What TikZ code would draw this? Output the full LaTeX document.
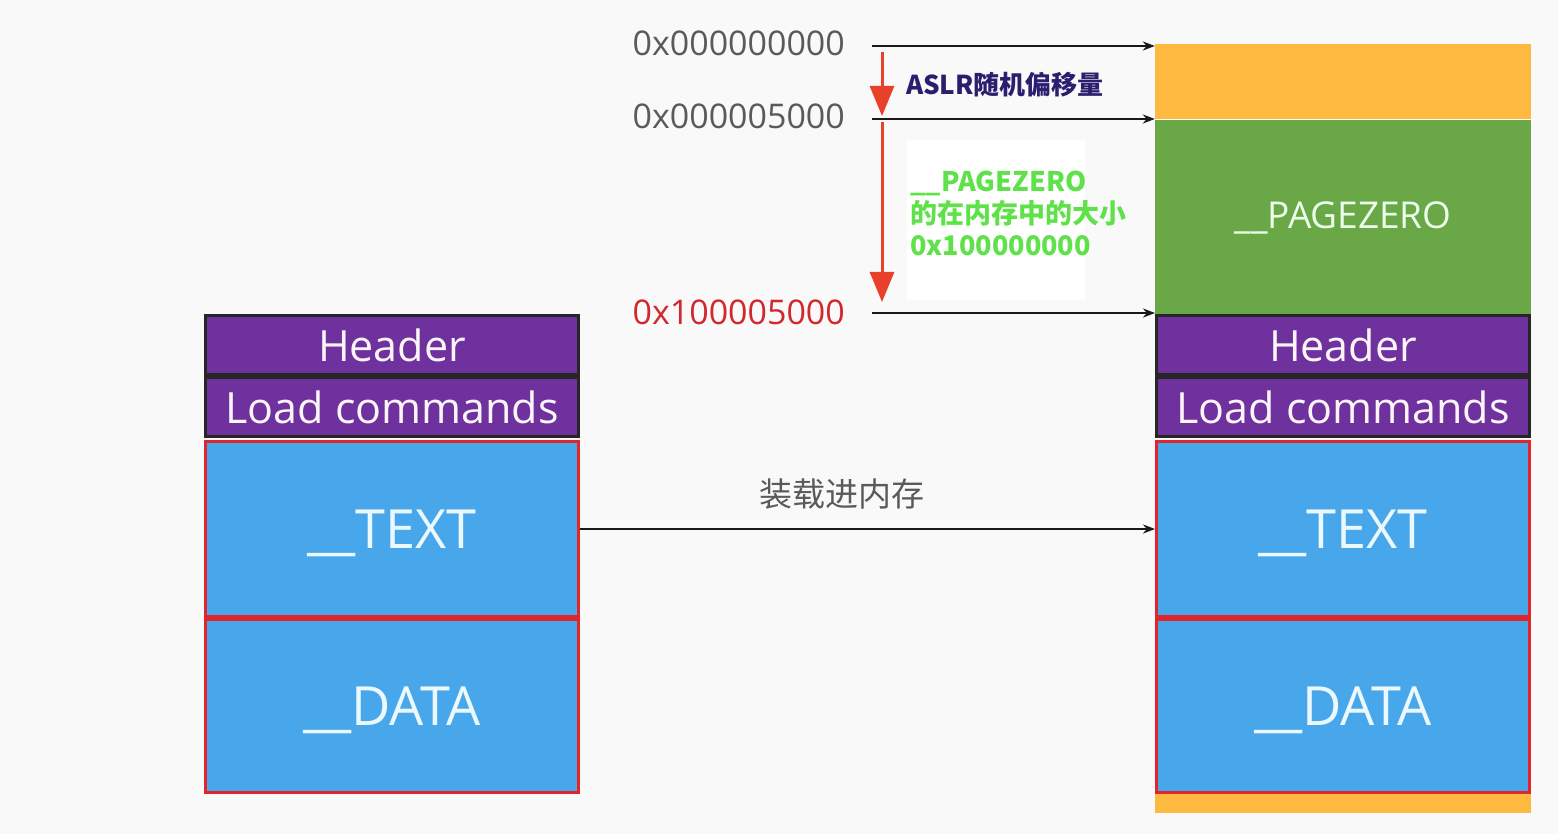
\documentclass[tikz,border=0pt]{standalone}
\usepackage{fontspec}
\setmainfont{Open Sans}
\newfontfamily\cjk{Noto Sans CJK SC}
\usetikzlibrary{arrows.meta}

\definecolor{bgcol}{HTML}{F9F9FA}
\definecolor{segorange}{HTML}{FDB940}
\definecolor{seggreen}{HTML}{6AA746}
\definecolor{segpurple}{HTML}{6F319E}
\definecolor{segblue}{HTML}{47A7EA}
\definecolor{segred}{HTML}{E0262B}
\definecolor{addrgray}{HTML}{5A5A5A}
\definecolor{addrred}{HTML}{D1282E}
\definecolor{arrred}{HTML}{E8402A}
\definecolor{aslrnavy}{HTML}{2B1E6E}
\definecolor{sizegreen}{HTML}{5FE14A}

\begin{document}
\begin{tikzpicture}[x=1pt, y=-1pt, >={Stealth[length=12pt,width=9pt]},
  seg/.style={minimum width=373pt, inner sep=0pt, line width=3pt},
  hdrseg/.style={seg, draw=black!85, fill=segpurple, minimum height=59pt,
    text=white!96!purple, font=\fontsize{43}{48}\selectfont},
  codeseg/.style={seg, draw=segred, fill=segblue, text=white!92!cyan,
    text height=39pt, text depth=0pt, font=\fontsize{54}{60}\selectfont},
  fillseg/.style={minimum width=376pt, inner sep=0pt},
  addr/.style={anchor=east, inner sep=0pt, text=addrgray, font=\fontsize{34}{40}\selectfont},
  link/.style={->, line width=2.2pt, black!90},
  offset/.style={-{Triangle[length=30pt,width=24pt]}, line width=3pt, arrred}]

\useasboundingbox (0,0) rectangle (1558,834);
\fill[bgcol] (0,0) rectangle (1558,834);

% Mach-O file on disk
\node[hdrseg] (lhead) at (392,345) {Header};
\node[hdrseg] (lcmds) at (392,407) {Load commands};
\node[codeseg, minimum height=175pt] (ltext) at (392,529) {\_\_TEXT};
\node[codeseg, minimum height=173pt] (ldata) at (392,706) {\_\_DATA};

% image in memory
\node[fillseg, fill=segorange, minimum height=75pt] (rtop) at (1343,81.5) {};
\node[fillseg, fill=seggreen, minimum height=195pt, text=white!92!green,
  font=\fontsize{37}{42}\selectfont] (rzero) at (1343,218) {\_\_PAGEZERO};
\node[fillseg, fill=segorange, minimum height=19pt] (rbot) at (1343,803.5) {};
\node[hdrseg] (rhead) at (1343,345) {Header};
\node[hdrseg] (rcmds) at (1343,407) {Load commands};
\node[codeseg, minimum height=175pt] (rtext) at (1343,529) {\_\_TEXT};
\node[codeseg, minimum height=173pt] (rdata) at (1343,706) {\_\_DATA};

% addresses
\node[addr] (a0) at (845,43) {0x000000000};
\node[addr] (a1) at (845,116) {0x000005000};
\node[addr, text=addrred] (a2) at (845,312) {0x100005000};
\coordinate (s0) at (872,46);
\coordinate (s1) at (872,119);
\coordinate (s2) at (872,313);
\draw[link] (s0) -- (s0 -| rtop.west);
\draw[link] (s1) -- (s1 -| rzero.west);
\draw[link] (s2) -- (s2 -| rhead.west);

% offsets
\coordinate (o0) at (882,52);
\coordinate (o1) at (882,116);
\coordinate (o2) at (882,122);
\coordinate (o3) at (882,302);
\draw[offset] (o0) -- (o1);
\draw[offset] (o2) -- (o3);
\node[anchor=west, inner sep=0pt, text=aslrnavy, font=\cjk\bfseries\fontsize{26}{30}\selectfont]
  (aslr) at (906,85) {ASLR随机偏移量};
\node[fill=white, minimum width=178pt, minimum height=160pt, inner sep=0pt]
  (sizebg) at (996,220) {};
\node[anchor=west, align=left, text=sizegreen, inner sep=0pt,
  font=\cjk\bfseries\fontsize{27}{32}\selectfont] (sizelbl) at (910,213)
  {\_\_PAGEZERO\\的在内存中的大小\\0x100000000};

% loading
\draw[link] (ltext.east) -- (rtext.west);
\node[text=addrgray, font=\cjk\fontsize{33}{38}\selectfont] (loadlbl) at (842,494) {装载进内存};
\end{tikzpicture}
\end{document}
